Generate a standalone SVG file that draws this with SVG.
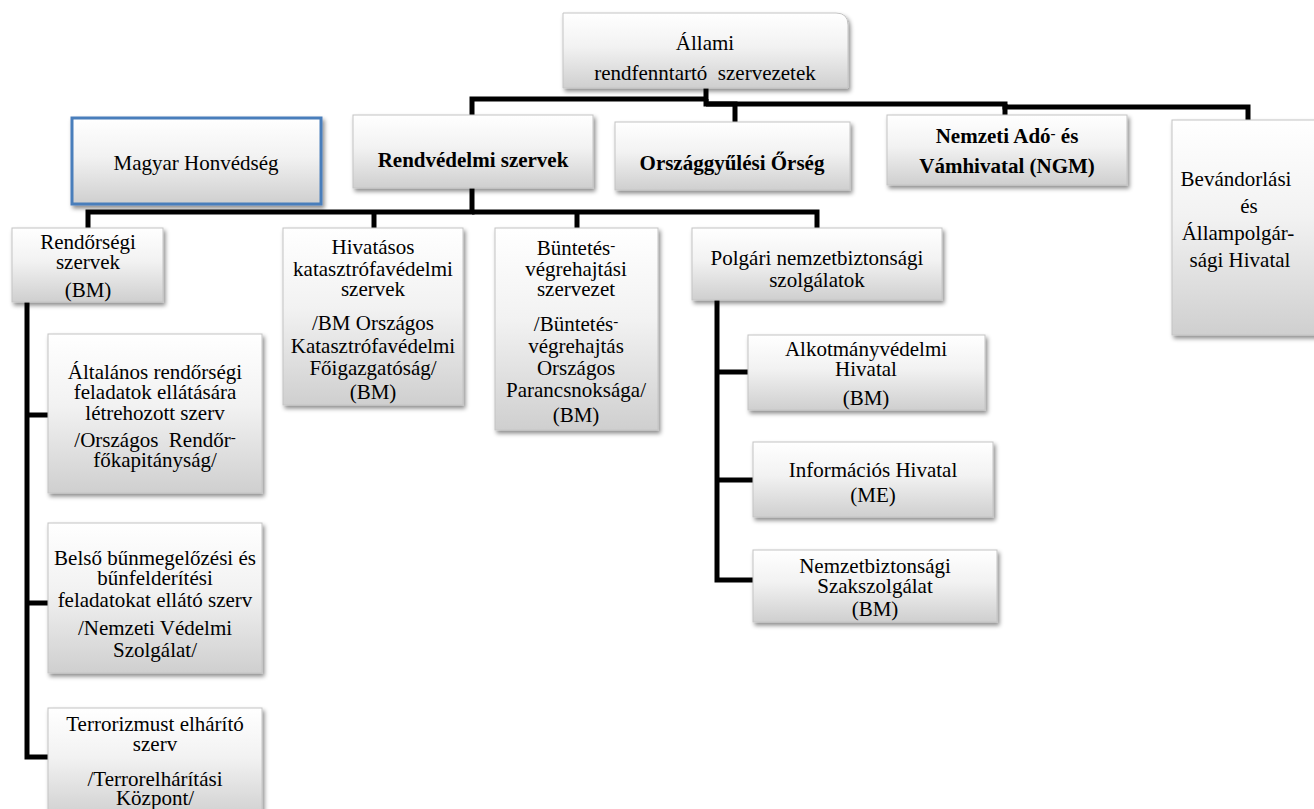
<svg xmlns="http://www.w3.org/2000/svg" width="1314" height="809" viewBox="0 0 1314 809" font-family="'Liberation Serif', 'DejaVu Serif', serif">
<style>
text{font-family:'Liberation Serif','DejaVu Serif',serif;font-size:21px;fill:#000;text-anchor:middle}
.b{font-weight:bold}
.box{fill:url(#g);stroke:#c4c4c4;stroke-width:1;filter:url(#sh)}
.blue{fill:url(#g);stroke:#4a7ebb;stroke-width:3;filter:url(#sh)}
.c{fill:none;stroke:#000;stroke-width:5;stroke-linejoin:miter}
.up{baseline-shift:35%;font-size:15px}
</style>
<defs>
<linearGradient id="g" x1="0" y1="0" x2="0" y2="1">
<stop offset="0" stop-color="#ffffff"/>
<stop offset="0.45" stop-color="#f2f2f2"/>
<stop offset="1" stop-color="#cfcfcf"/>
</linearGradient>
<filter id="sh" x="-10%" y="-10%" width="125%" height="135%">
<feDropShadow dx="2" dy="3" stdDeviation="2" flood-color="#000" flood-opacity="0.45"/>
</filter>
</defs>

<g id="connectors">
<path class="c" d="M706,88 V99 H472 V115"/>
<path class="c" d="M706,99 V104 H735 V122"/>
<path class="c" d="M706,104 H1005 V115"/>
<path class="c" d="M1005,104 V107 H1248 V120"/>
<path class="c" d="M472,188 V212 H88 V228"/>
<path class="c" d="M472,212 H817 V228"/>
<path class="c" d="M374,212 V228"/>
<path class="c" d="M577,212 V228"/>
<path class="c" d="M27,302 V757 H48"/>
<path class="c" d="M27,415 H48"/>
<path class="c" d="M27,603 H48"/>
<path class="c" d="M717,300 V580 H753"/>
<path class="c" d="M717,372 H748"/>
<path class="c" d="M717,480 H753"/>
</g>

<g id="allami">
<path class="box" d="M563,13 H836 Q848,13 848,25 V88 H563 Z"/>
<text x="705" y="50">Állami</text>
<text x="705" y="80" xml:space="preserve">rendfenntartó  szervezetek</text>
</g>

<g id="honvedseg">
<rect class="blue" x="72" y="118" width="249" height="86"/>
<text x="196" y="170">Magyar Honvédség</text>
</g>

<g id="rendvedelmi">
<rect class="box" x="353" y="115" width="240" height="73"/>
<text class="b" x="473" y="167">Rendvédelmi szervek</text>
</g>

<g id="orseg">
<rect class="box" x="615" y="122" width="235" height="68"/>
<text class="b" x="732" y="170">Országgyűlési Őrség</text>
</g>

<g id="nav">
<rect class="box" x="887" y="115" width="240" height="70"/>
<text class="b" x="1007" y="143">Nemzeti Adó<tspan class="up">-</tspan> és</text>
<text class="b" x="1007" y="173">Vámhivatal (NGM)</text>
</g>

<g id="bevandorlasi">
<rect class="box" x="1172" y="120" width="150" height="215"/>
<text x="1236" y="186">Bevándorlási</text>
<text x="1249" y="213">és</text>
<text x="1238" y="240">Állampolgár-</text>
<text x="1240" y="267">sági Hivatal</text>
</g>

<g id="rendorsegi">
<rect class="box" x="12" y="228" width="151" height="74"/>
<text x="88" y="249">Rendőrségi</text>
<text x="88" y="269">szervek</text>
<text x="88" y="297">(BM)</text>
</g>

<g id="katasztrofa">
<rect class="box" x="283" y="228" width="180" height="177"/>
<text x="373" y="254">Hivatásos</text>
<text x="373" y="276">katasztrófavédelmi</text>
<text x="373" y="296">szervek</text>
<text x="373" y="330">/BM Országos</text>
<text x="373" y="353">Katasztrófavédelmi</text>
<text x="373" y="375">Főigazgatóság/</text>
<text x="373" y="399">(BM)</text>
</g>

<g id="buntetes">
<rect class="box" x="495" y="228" width="163" height="202"/>
<text x="576" y="255">Büntetés<tspan class="up">-</tspan></text>
<text x="576" y="276">végrehajtási</text>
<text x="576" y="296">szervezet</text>
<text x="576" y="331">/Büntetés<tspan class="up">-</tspan></text>
<text x="576" y="353">végrehajtás</text>
<text x="576" y="375">Országos</text>
<text x="576" y="397">Parancsnoksága/</text>
<text x="576" y="422">(BM)</text>
</g>

<g id="polgari">
<rect class="box" x="692" y="228" width="250" height="72"/>
<text x="817" y="265">Polgári nemzetbiztonsági</text>
<text x="817" y="287">szolgálatok</text>
</g>

<g id="altalanos">
<rect class="box" x="48" y="334" width="214" height="159"/>
<text x="155" y="379">Általános rendőrségi</text>
<text x="155" y="399">feladatok ellátására</text>
<text x="155" y="420">létrehozott szerv</text>
<text x="155" y="447" xml:space="preserve">/Országos  Rendőr<tspan class="up">-</tspan></text>
<text x="155" y="467">főkapitányság/</text>
</g>

<g id="belso">
<rect class="box" x="48" y="523" width="214" height="150"/>
<text x="155" y="565">Belső bűnmegelőzési és</text>
<text x="155" y="585">bűnfelderítési</text>
<text x="155" y="607">feladatokat ellátó szerv</text>
<text x="155" y="635">/Nemzeti Védelmi</text>
<text x="155" y="657">Szolgálat/</text>
</g>

<g id="terror">
<rect class="box" x="48" y="708" width="214" height="110"/>
<text x="155" y="731">Terrorizmust elhárító</text>
<text x="155" y="751">szerv</text>
<text x="155" y="786">/Terrorelhárítási</text>
<text x="155" y="805">Központ/</text>
</g>

<g id="alkotmany">
<rect class="box" x="748" y="335" width="237" height="75"/>
<text x="866" y="356">Alkotmányvédelmi</text>
<text x="866" y="376">Hivatal</text>
<text x="866" y="405">(BM)</text>
</g>

<g id="informacios">
<rect class="box" x="753" y="442" width="240" height="75"/>
<text x="873" y="477">Információs Hivatal</text>
<text x="873" y="502">(ME)</text>
</g>

<g id="nemzetbiztonsagi">
<rect class="box" x="753" y="550" width="244" height="72"/>
<text x="875" y="573">Nemzetbiztonsági</text>
<text x="875" y="593">Szakszolgálat</text>
<text x="875" y="616">(BM)</text>
</g>
</svg>
